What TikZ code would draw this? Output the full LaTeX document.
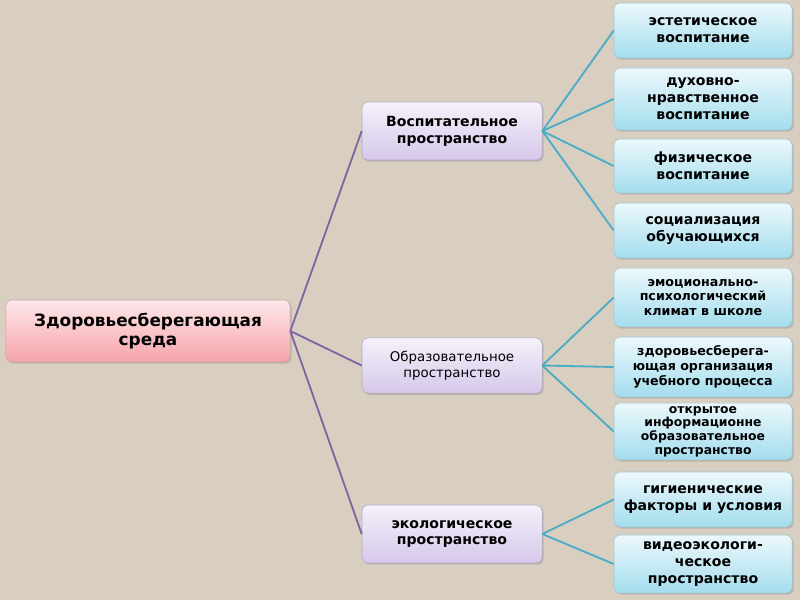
\documentclass[tikz,border=0pt]{standalone}
\usepackage{fontspec}
\setmainfont{DejaVu Sans}
\usepackage{tikz}
\usetikzlibrary{shadows}
\definecolor{bgcol}{HTML}{D8CFC1}
\definecolor{rootfill}{HTML}{F6A3AA}
\definecolor{rootline}{HTML}{C9A3A5}
\definecolor{midfill}{HTML}{D6C8EA}
\definecolor{midline}{HTML}{B3A8C2}
\definecolor{leaffill}{HTML}{A3DDEE}
\definecolor{leafline}{HTML}{9FC6D2}
\definecolor{purplec}{HTML}{8064A2}
\definecolor{tealc}{HTML}{4BACC6}

\begin{document}
\begin{tikzpicture}[x=0.025cm,y=-0.025cm,
  bx/.style={rounded corners=4pt,align=center,inner sep=2pt,
             drop shadow={shadow xshift=1.2pt,shadow yshift=-1.2pt,opacity=0.35}},
  root/.style={bx,draw=rootline,top color=rootfill!25,bottom color=rootfill,
               minimum width=7.1cm,minimum height=1.55cm,font=\bfseries\fontsize{12}{14}\selectfont},
  mid/.style={bx,draw=midline,top color=midfill!25,bottom color=midfill,
              minimum width=4.5cm,minimum height=1.45cm,font=\bfseries\fontsize{10}{12}\selectfont},
  leaf/.style={bx,draw=leafline,top color=leaffill!20,bottom color=leaffill,
               minimum width=4.45cm,font=\bfseries\fontsize{10}{12}\selectfont},
  sm/.style={font=\bfseries\fontsize{9}{10.5}\selectfont},
  ln1/.style={purplec,line width=1.3pt},
  ln2/.style={tealc,line width=1.3pt},
]
\fill[bgcol] (0,0) rectangle (800,600);
\useasboundingbox (0,0) rectangle (800,600);

% root
\node[root] (env) at (148,331) {Здоровьесберегающая\\среда};

% second level
\node[mid] (edu) at (452,131) {Воспитательное\\пространство};
\node[mid,minimum height=1.38cm,font=\fontsize{9.5}{11.5}\selectfont] (study) at (452,365.5)
  {Образовательное\\пространство};
\node[mid] (eco) at (452,534) {экологическое\\пространство};

% third level
\node[leaf,minimum height=1.375cm] (aest) at (703,30.5) {эстетическое\\воспитание};
\node[leaf,minimum height=1.55cm] (moral) at (703,99) {духовно-\\нравственное\\воспитание};
\node[leaf,minimum height=1.35cm] (phys) at (703,166) {физическое\\воспитание};
\node[leaf,minimum height=1.375cm] (soc) at (703,230.5) {социализация\\обучающихся};
\node[leaf,sm,minimum height=1.47cm] (emo) at (703,297.5)
  {эмоционально-\\психологический\\климат в школе};
\node[leaf,sm,minimum height=1.5cm] (org) at (703,367)
  {здоровьесберега-\\ющая организация\\учебного процесса};
\node[leaf,minimum height=1.42cm,font=\bfseries\fontsize{8.8}{9.8}\selectfont] (info) at (703,431.5)
  {открытое\\информационне\\образовательное\\пространство};
\node[leaf,minimum height=1.375cm] (hyg) at (703,499.5) {гигиенические\\факторы и условия};
\node[leaf,minimum height=1.45cm] (video) at (703,564) {видеоэкологи-\\ческое\\пространство};

% connectors
\draw[ln1] (env.east) -- (edu.west);
\draw[ln1] (env.east) -- (study.west);
\draw[ln1] (env.east) -- (eco.west);

\draw[ln2] (edu.east) -- (aest.west);
\draw[ln2] (edu.east) -- (moral.west);
\draw[ln2] (edu.east) -- (phys.west);
\draw[ln2] (edu.east) -- (soc.west);

\draw[ln2] (study.east) -- (emo.west);
\draw[ln2] (study.east) -- (org.west);
\draw[ln2] (study.east) -- (info.west);

\draw[ln2] (eco.east) -- (hyg.west);
\draw[ln2] (eco.east) -- (video.west);
\end{tikzpicture}
\end{document}
